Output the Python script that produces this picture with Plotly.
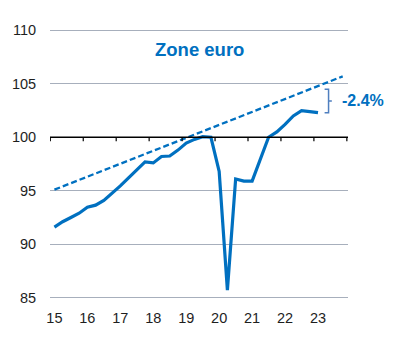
import numpy as np
import plotly.graph_objects as go

# ---- data ----
years = [2015, 2016, 2017, 2018, 2019, 2020, 2021, 2022, 2023]
year_labels = ["15", "16", "17", "18", "19", "20", "21", "22", "23"]
quarter_x = [2015 + i / 4 for i in range(33)]  # 2015Q1 .. 2023Q1
gdp_index = [91.6, 92.1, 92.5, 92.9, 93.45, 93.65, 94.1, 94.75, 95.45, 96.2,
             96.9, 97.7, 97.6, 98.2, 98.25, 98.8, 99.45, 99.8, 100.05, 100.0,
             96.8, 85.7, 96.1, 95.9, 95.9, 97.9, 100.0, 100.5, 101.2, 102.0,
             102.5, 102.4, 102.3]
trend_x = [2015.0, 2023.75]
trend_y = [95.1, 105.7]
y_ticks = [85, 90, 95, 100, 105, 110]
base_level = 100
title_text = "Zone euro"
gap_label = "-2.4%"

BLUE = "#0070c0"
GRID = "#a7afbc"
TXT = "#1e1e1e"
BRACKET = "#4f7fbf"

fig = go.Figure()
fig.add_trace(go.Scatter(x=trend_x, y=trend_y, mode="lines",
                         line=dict(color=BLUE, width=2.3, dash="6px,3px"),
                         hoverinfo="skip", showlegend=False))
fig.add_trace(go.Scatter(x=quarter_x, y=gdp_index, mode="lines",
                         line=dict(color=BLUE, width=3.2),
                         hoverinfo="skip", showlegend=False))

# base-100 reference line with year-boundary ticks
fig.add_shape(type="line", xref="paper", yref="y", x0=0, x1=1,
              y0=base_level, y1=base_level, layer="above",
              line=dict(color="black", width=1.3))
for yv in years + [years[-1] + 1]:
    fig.add_shape(type="line", xref="x", yref="y", ysizemode="pixel",
                  yanchor=base_level, x0=yv - 0.125, x1=yv - 0.125, y0=0, y1=-4,
                  layer="above", line=dict(color="black", width=1.2))

# bracket between trend and last observation
last_x = quarter_x[-1]
top = float(np.interp(last_x, trend_x, trend_y)) - 0.3
bot = gdp_index[-1]
mid = (top + bot) / 2
xh, xv, xt = last_x + 0.20, last_x + 0.32, last_x + 0.42
path = (f"M {xh},{top} L {xv},{top} L {xv},{bot} L {xh},{bot} "
        f"M {xv},{mid} L {xt},{mid}")
fig.add_shape(type="path", path=path, xref="x", yref="y",
              line=dict(color=BRACKET, width=1.5))
fig.add_annotation(x=last_x + 0.66, y=mid, xref="x", yref="y", text=gap_label,
                   showarrow=False, xanchor="left", yanchor="middle",
                   font=dict(family="Liberation Sans, Arial", size=16, color=BLUE,
                             weight="bold"))
fig.add_annotation(x=0.5, y=108.2, xref="paper", yref="y", text=title_text,
                   showarrow=False, xanchor="center", yanchor="middle",
                   font=dict(family="Liberation Sans, Arial", size=18.5, color=BLUE,
                             weight="bold"))

xr = [2014.866, 2023.91]
yr = [84.5, 110.5]
fig.update_layout(
    width=394, height=358,
    margin=dict(l=45, r=46, t=25, b=55),
    plot_bgcolor="white", paper_bgcolor="white",
    font=dict(family="Liberation Sans, Arial", size=14.5, color=TXT),
    xaxis=dict(range=xr, tickvals=years, ticktext=year_labels,
               showgrid=False, zeroline=False, showline=False,
               ticks="outside", ticklen=2, tickcolor="rgba(0,0,0,0)"),
    yaxis=dict(range=yr, tickvals=y_ticks, showgrid=True, gridcolor=GRID,
               gridwidth=1, zeroline=False, showline=False,
               ticks="outside", ticklen=10, tickcolor="rgba(0,0,0,0)"),
)
fig.write_html("out.html", config={"displayModeBar": False},
               post_script="document.body.style.margin='0';")
